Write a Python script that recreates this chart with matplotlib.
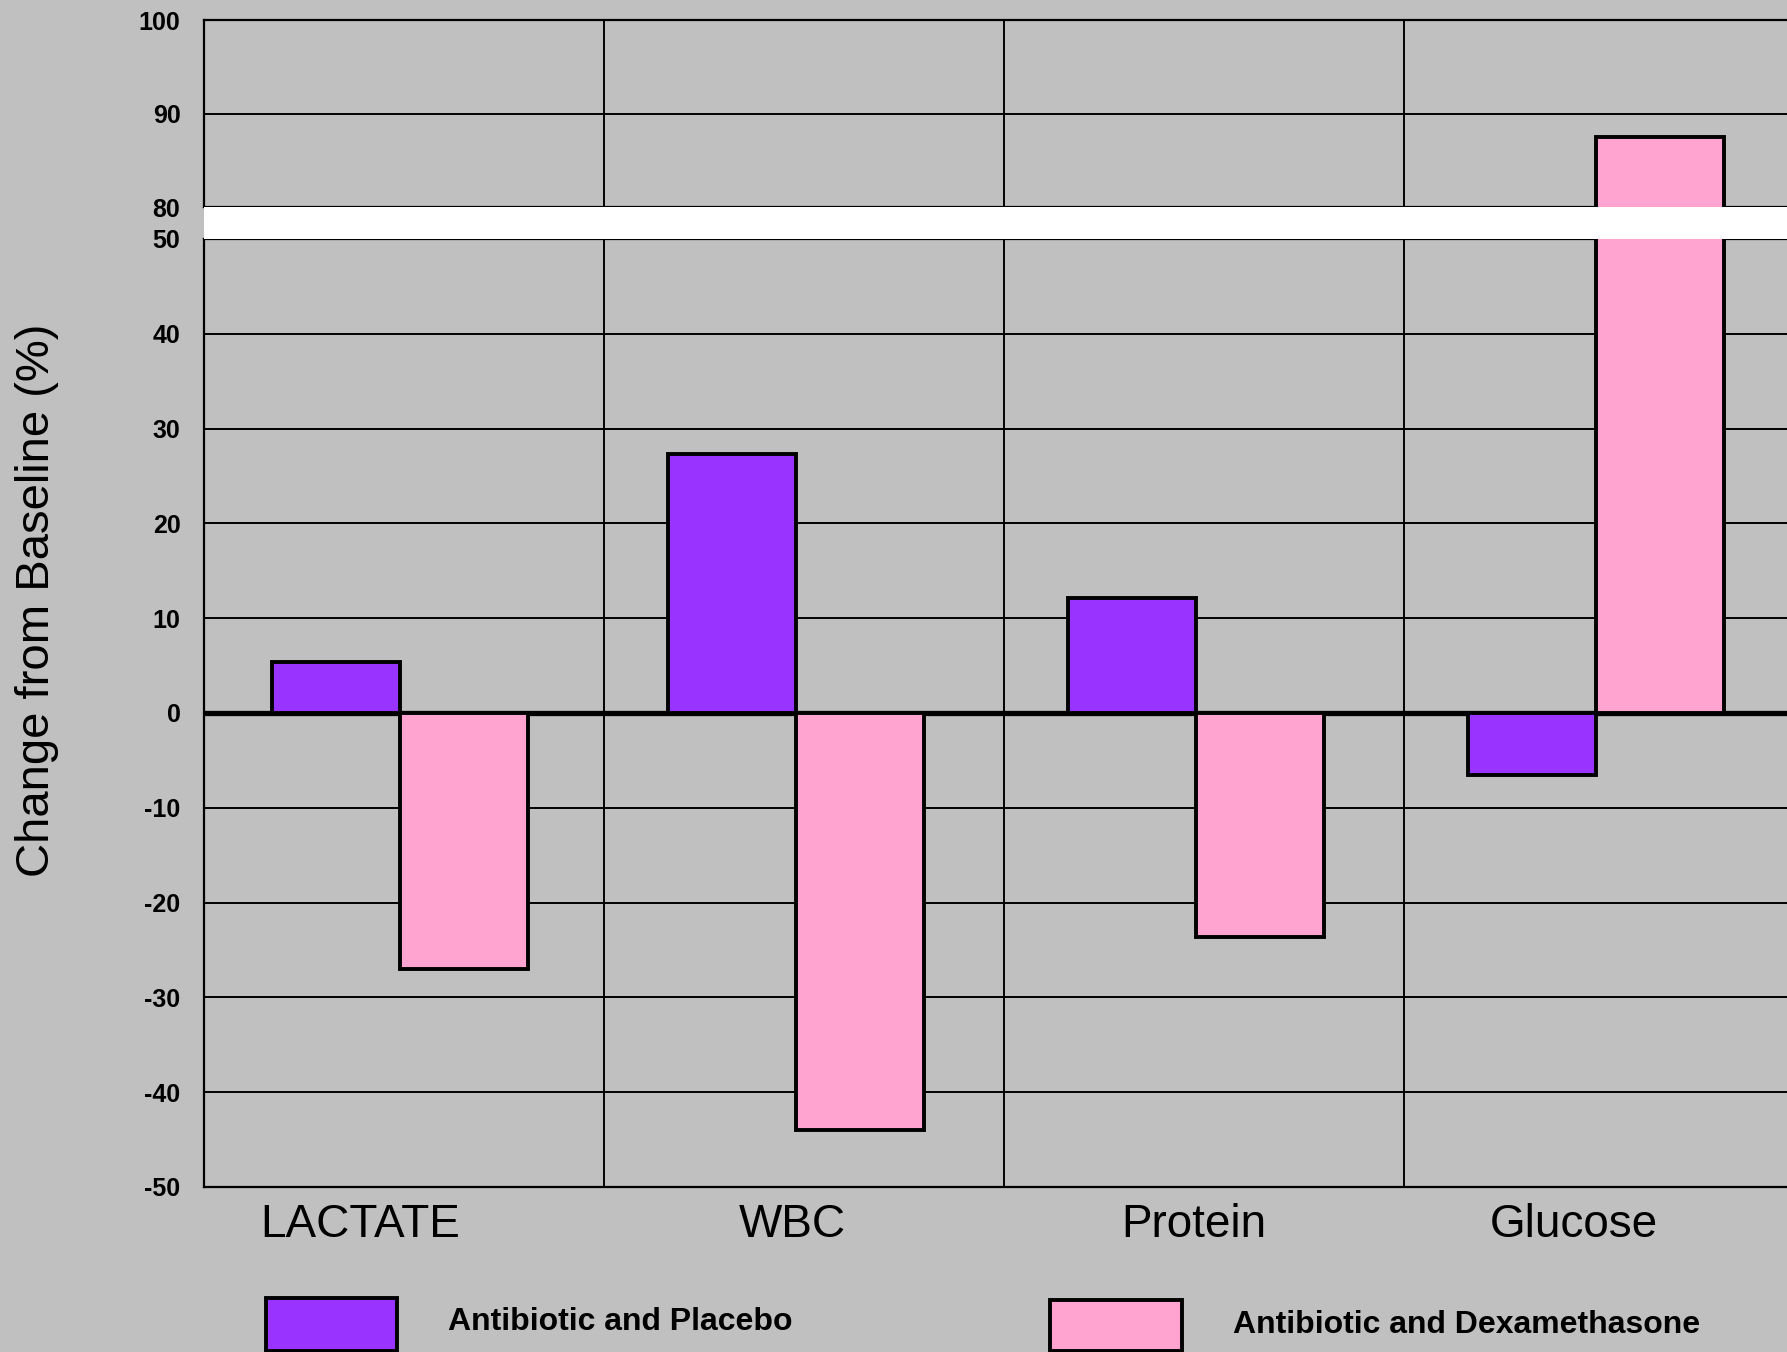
import matplotlib.pyplot as plt
import numpy as np
from matplotlib.patches import Rectangle

# data
categories = ['LACTATE', 'WBC', 'Protein', 'Glucose']
placebo = [5.4, 27.3, 12.1, -6.5]
dexa = [-27.0, -44.0, -23.6, 87.5]
labels = ['Antibiotic and Placebo', 'Antibiotic and Dexamethasone']
upper_ticks = [80, 90, 100]
lower_ticks = [-50, -40, -30, -20, -10, 0, 10, 20, 30, 40, 50]

purple = '#9933FF'
pink = '#FFA3D0'
grey = '#C0C0C0'

plt.rcParams['font.family'] = ['Liberation Sans', 'DejaVu Sans']
plt.rcParams['axes.unicode_minus'] = False

fig = plt.figure(figsize=(17.87, 13.52), dpi=100)
fig.patch.set_facecolor(grey)

left = 204 / 1787
width = 1600 / 1787
ax_top = fig.add_axes([left, 1 - 207.3 / 1352, width, (207.3 - 20) / 1352])
ax_bot = fig.add_axes([left, 1 - 1187 / 1352, width, (1187 - 239) / 1352])

# white band marking the axis break
fig.patches.append(Rectangle((left, 1 - 239 / 1352), 1 - left, 32 / 1352,
                             transform=fig.transFigure, facecolor='white',
                             edgecolor='none', zorder=0))

x = np.arange(len(categories))
w = 0.32
off = np.array([-0.01, -0.02, -0.02, -0.02])

for ax in (ax_top, ax_bot):
    ax.set_facecolor(grey)
    ax.bar(x + off - w / 2, placebo, w, color=purple, edgecolor='black',
           linewidth=2.8, zorder=3)
    ax.bar(x + off + w / 2, dexa, w, color=pink, edgecolor='black',
           linewidth=2.8, zorder=3)
    for xv in [0.5, 1.5, 2.5]:
        ax.axvline(xv, color='black', lw=1.4, zorder=1)
    ax.set_xlim(-0.5, 3.5)
    ax.set_xticks([])
    ax.yaxis.grid(True, color='black', lw=1.4, zorder=1)
    ax.set_axisbelow(True)
    for s in ['left', 'top', 'bottom']:
        ax.spines[s].set_color('black')
        ax.spines[s].set_linewidth(1.6)
    ax.spines['right'].set_visible(False)
    ax.tick_params(axis='y', length=0, pad=17, labelsize=18)

ax_top.set_ylim(80, 100)
ax_top.set_yticks(upper_ticks)
ax_bot.set_ylim(-50, 50)
ax_bot.set_yticks(lower_ticks)
for ax in (ax_top, ax_bot):
    for t in ax.get_yticklabels():
        t.set_fontweight('bold')

ax_bot.axhline(0, color='black', lw=3.8, zorder=2)

# category labels
lab_off = [-0.11, -0.03, -0.025, -0.075]
for i, c in enumerate(categories):
    ax_bot.text(i + lab_off[i], -54, c, ha='center', va='center',
                fontsize=33, clip_on=False)

fig.text(37 / 1787, 1 - 600 / 1352, 'Change from Baseline (%)', rotation=90,
         ha='center', va='center', fontsize=34)

# legend drawn by hand
fig.patches.append(Rectangle((266 / 1787, 1 - 1351 / 1352), 131 / 1787, 53 / 1352,
                             transform=fig.transFigure, facecolor=purple,
                             edgecolor='black', linewidth=2.8))
fig.patches.append(Rectangle((1050 / 1787, 1 - 1351 / 1352), 132 / 1787, 51 / 1352,
                             transform=fig.transFigure, facecolor=pink,
                             edgecolor='black', linewidth=2.8))
fig.text(448 / 1787, 1 - 1322 / 1352, labels[0], ha='left', va='center',
         fontsize=23, fontweight='bold')
fig.text(1233 / 1787, 1 - 1325 / 1352, labels[1], ha='left', va='center',
         fontsize=23, fontweight='bold')

fig.savefig('out.png', dpi=100, facecolor=grey)
